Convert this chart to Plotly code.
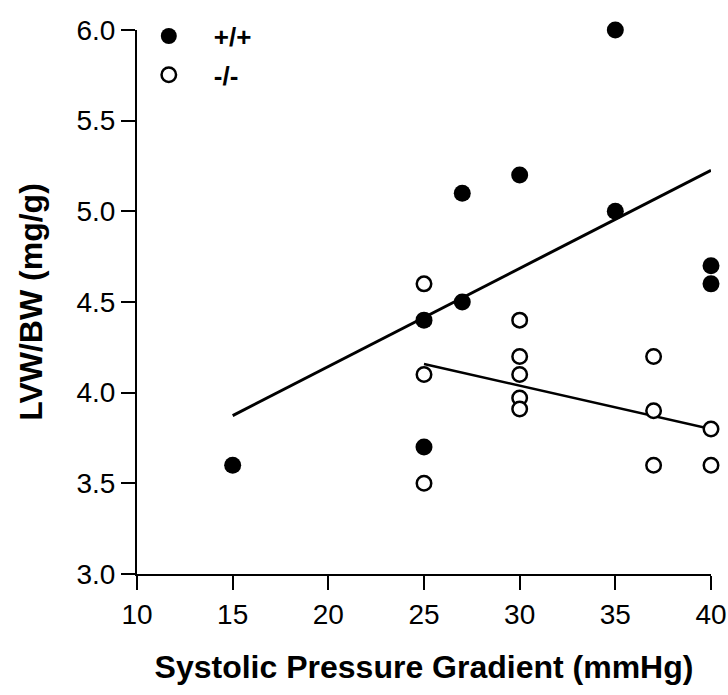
import numpy as np
import plotly.graph_objects as go

# Data
wt_x = [15, 25, 25, 27, 27, 30, 35, 35, 40, 40]
wt_y = [3.6, 4.4, 3.7, 4.5, 5.1, 5.2, 5.0, 6.0, 4.7, 4.6]
ko_x = [25, 25, 25, 30, 30, 30, 30, 30, 37, 37, 37, 40, 40]
ko_y = [4.6, 4.1, 3.5, 4.4, 4.2, 4.1, 3.97, 3.91, 4.2, 3.9, 3.6, 3.8, 3.6]
x_ticks = [10, 15, 20, 25, 30, 35, 40]
y_ticks = [3.0, 3.5, 4.0, 4.5, 5.0, 5.5, 6.0]

def fit_line(x, y):
    m, b = np.polyfit(x, y, 1)
    xs = np.array([min(x), max(x)], dtype=float)
    return xs, m * xs + b

wt_lx, wt_ly = fit_line(wt_x, wt_y)
ko_lx, ko_ly = fit_line(ko_x, ko_y)

fig = go.Figure()
fig.add_trace(go.Scatter(x=wt_lx, y=wt_ly, mode="lines", line=dict(color="black", width=3),
                         showlegend=False, hoverinfo="skip", cliponaxis=False))
fig.add_trace(go.Scatter(x=ko_lx, y=ko_ly, mode="lines", line=dict(color="black", width=2.5),
                         showlegend=False, hoverinfo="skip", cliponaxis=False))
fig.add_trace(go.Scatter(x=wt_x, y=wt_y, mode="markers", name="+/+", legendgroup="a",
                         marker=dict(symbol="circle", size=17, color="black"),
                         cliponaxis=False))
fig.add_trace(go.Scatter(x=ko_x, y=ko_y, mode="markers", name="-/-", legendgroup="b",
                         marker=dict(symbol="circle", size=14.5, color="white",
                                     line=dict(color="black", width=2.5)),
                         cliponaxis=False))

FAM = "Liberation Sans, Arial"
axis_font = dict(family=FAM, size=28, color="black")
title_font = dict(family=FAM, size=32, color="black")
fig.update_layout(
    width=728, height=695,
    margin=dict(l=137, r=17, t=30, b=121),
    plot_bgcolor="white", paper_bgcolor="white",
    font=dict(family=FAM, color="black"),
    showlegend=True,
    legend=dict(x=-0.023, y=1.032, xanchor="left", yanchor="top",
                font=dict(family=FAM, size=26, color="black", weight="bold"),
                itemwidth=80, bgcolor="rgba(0,0,0,0)",
                traceorder="grouped", tracegroupgap=2),
    xaxis=dict(range=[10, 40], tickvals=x_ticks, ticktext=[str(v) for v in x_ticks],
               automargin=False,
               showgrid=False, zeroline=False, showline=True, linecolor="black", linewidth=2,
               ticks="outside", ticklen=14, tickwidth=2, tickcolor="black",
               tickfont=axis_font,
               title=dict(text="<b>Systolic Pressure Gradient (mmHg)</b>",
                          font=title_font, standoff=27)),
    yaxis=dict(range=[3.0, 6.0], tickvals=y_ticks, ticktext=[f"{v:.1f}" for v in y_ticks],
               automargin=False,
               showgrid=False, zeroline=False, showline=True, linecolor="black", linewidth=2,
               ticks="outside", ticklen=14, tickwidth=2, tickcolor="black",
               tickfont=axis_font,
               title=dict(text="<b>LVW/BW (mg/g)</b>",
                          font=title_font, standoff=24)),
)
fig.write_html("out.html")
